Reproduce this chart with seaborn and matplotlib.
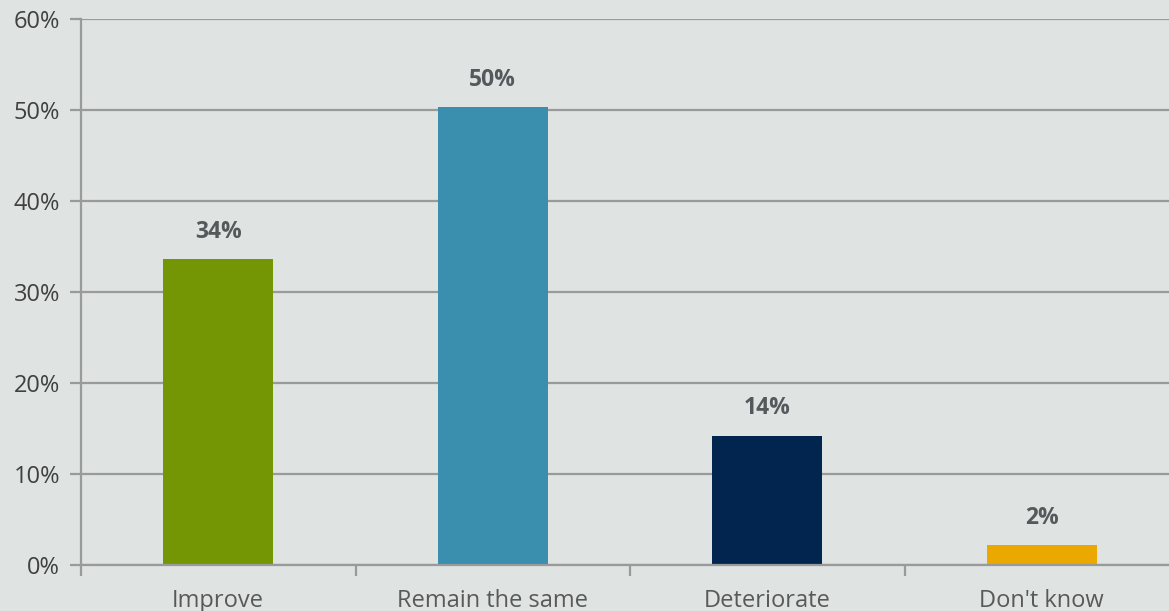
import matplotlib
matplotlib.use("Agg")
import matplotlib.pyplot as plt
import seaborn as sns
import pandas as pd
from matplotlib.ticker import FixedLocator, PercentFormatter

categories = ["Improve", "Remain the same", "Deteriorate", "Don't know"]
values = [33.6, 50.3, 14.2, 2.2]
value_labels = ["34%", "50%", "14%", "2%"]
colors = ["#759604", "#3a8fae", "#022550", "#eaa800"]
yticks = [0, 10, 20, 30, 40, 50, 60]

bg = "#dfe3e2"
sns.set_theme(style="white")
plt.rcParams['font.family'] = ['Open Sans', 'DejaVu Sans']

W, H = 1169, 611
fig = plt.figure(figsize=(W / 100, H / 100), dpi=100, facecolor=bg)
x0, x1 = 81, 81 + 4 * 274.5
y0, y1 = 565, 18.5
ax = fig.add_axes([x0 / W, 1 - y0 / H, (x1 - x0) / W, (y0 - y1) / H])
ax.set_facecolor(bg)

df = pd.DataFrame({"cat": categories, "val": values})
sns.barplot(data=df, x="cat", y="val", hue="cat", palette=colors, width=0.4,
            legend=False, ax=ax, saturation=1, edgecolor="none", linewidth=0)

ax.set_xlim(-0.5, 3.5)
ax.set_ylim(0, 60)
ax.set_yticks(yticks)
ax.yaxis.set_major_formatter(PercentFormatter(decimals=0))
ax.yaxis.grid(True, color="#9a9a9a", linewidth=1.6)
ax.set_axisbelow(True)
for s in ["top", "right"]:
    ax.spines[s].set_visible(False)
for s in ["left", "bottom"]:
    ax.spines[s].set_color("#9a9a9a")
    ax.spines[s].set_linewidth(1.6)

ax.tick_params(axis="y", which="major", length=8, width=1.6, color="#9a9a9a",
               labelsize=17, labelcolor="#404040", pad=7, left=True)
ax.tick_params(axis="x", which="major", length=0, labelsize=17,
               labelcolor="#595959", pad=17)
ax.xaxis.set_minor_locator(FixedLocator([-0.5, 0.5, 1.5, 2.5, 3.5]))
ax.tick_params(axis="x", which="minor", length=8, width=1.6, color="#9a9a9a",
               bottom=True)
ax.set_xlabel("")
ax.set_ylabel("")

for i, (v, lab) in enumerate(zip(values, value_labels)):
    ax.annotate(lab, (i, v), xytext=(0, 11), textcoords="offset points",
                ha="center", va="bottom", fontsize=16.5, fontweight="bold",
                color="#55595c")

fig.savefig("out.png", dpi=100, facecolor=bg)
